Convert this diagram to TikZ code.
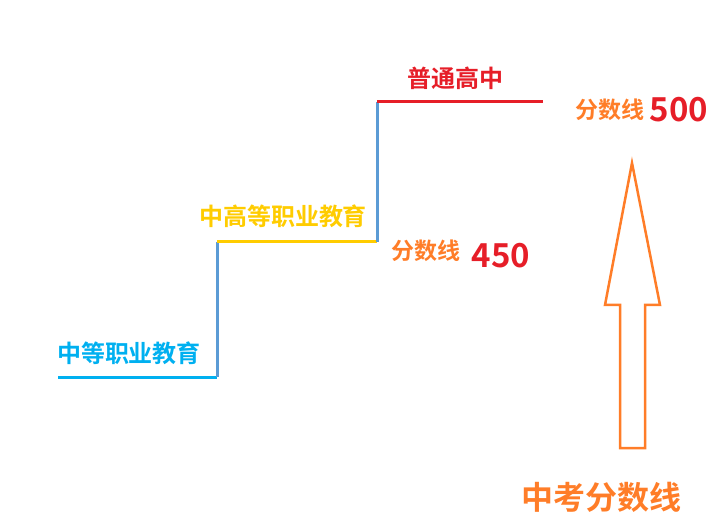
\documentclass[tikz,border=0pt]{standalone}
\usepackage{fontspec}
\newfontfamily\cjk{Noto Sans CJK SC Bold}
\definecolor{lvlblue}{RGB}{0,176,240}
\definecolor{lvlgold}{RGB}{255,204,0}
\definecolor{lvlred}{RGB}{230,30,40}
\definecolor{riser}{RGB}{91,155,213}
\definecolor{scoreorange}{RGB}{255,125,40}
\tikzset{
  tread/.style={line width=3pt},
  rise/.style={line width=3pt, riser},
  lvl/.style={font=\cjk\fontsize{24}{24}\selectfont, inner sep=0pt},
  score/.style={font=\cjk\fontsize{23}{23}\selectfont, inner sep=0pt, scoreorange},
  num/.style={font=\cjk\fontsize{33}{33}\selectfont, inner sep=0pt, lvlred}
}
\begin{document}
\begin{tikzpicture}[x=1pt,y=-1pt]
		\useasboundingbox (0,0) rectangle (716,516);
		% steps
		\coordinate (s0) at (58,377);
		\coordinate (s1) at (217,377);
		\coordinate (s2) at (217,242);
		\coordinate (s3) at (377,242);
		\coordinate (s4) at (377,102);
		\coordinate (s5) at (543,102);
		\draw [tread, lvlblue] (s0) -- (s1);
		\draw [rise] (s1) -- (s2);
		\draw [tread, lvlgold] (s2) -- (s3);
		\draw [rise] (s3) -- (s4);
		\draw [tread, lvlred] (s4) -- (s5);

		% labels
		\node [lvl, lvlblue] (low) at (129,353) {中等职业教育};
		\node [lvl, lvlgold] (mid) at (283,216) {中高等职业教育};
		\node [lvl, lvlred] (high) at (455,78) {普通高中};
		\node [score] (lineA) at (426,251) {分数线};
		\node [num] (numA) at (501,256) {450};
		\node [score] (lineB) at (610,110) {分数线};
		\node [num] (numB) at (679,110) {500};

		% arrow
		\draw [line width=2.5pt, scoreorange, line join=miter]
			(632,163) -- (660,305) -- (645,305) -- (645,448) -- (620,448)
			-- (620,305) -- (605,305) -- cycle;
		\node [font=\cjk\fontsize{32}{32}\selectfont, inner sep=0pt, scoreorange] (title) at (601,497) {中考分数线};
	\end{tikzpicture}
\end{document}
